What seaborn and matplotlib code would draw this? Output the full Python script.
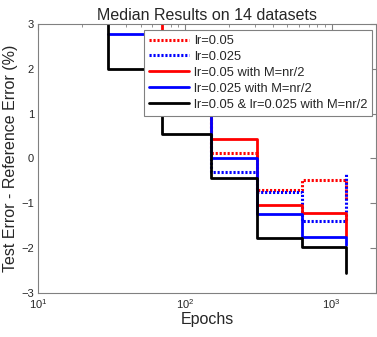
# Load libraries
import pandas as pd
import numpy as np
import matplotlib
matplotlib.use('Agg')
import matplotlib.pyplot as plt
import seaborn as sns

# Data (NaN = no value at that epoch)
epochs = [15, 30, 70, 150, 310, 625, 1250]
lr05 = [np.nan, np.nan, 1.6, 0.13, -0.70, -0.48, -0.90]
lr025 = [np.nan, np.nan, 1.4, -0.31, -0.74, -1.39, -0.32]
lr05_m = [np.nan, 3.6, 1.8, 0.43, -1.04, -1.22, -1.73]
lr025_m = [np.nan, 2.77, 1.6, 0.0, -1.24, -1.75, -1.93]
both_m = [4.5, 2.0, 0.55, -0.44, -1.78, -1.98, -2.55]

labels = ['lr=0.05', 'lr=0.025', 'lr=0.05 with M=nr/2',
          'lr=0.025 with M=nr/2', 'lr=0.05 & lr=0.025 with M=nr/2']
series = [lr05, lr025, lr05_m, lr025_m, both_m]
colors = ['red', 'blue', 'red', 'blue', 'black']
styles = [(0, (0.7, 0.6)), (0, (0.7, 0.6)), '-', '-', '-']
widths = [2.2, 2.2, 2.0, 2.0, 2.0]

sns.set_style('white')
plt.rcParams['font.family'] = ['Liberation Sans', 'DejaVu Sans']

fig = plt.figure(figsize=(3.77, 3.37), dpi=100)
ax = fig.add_axes([0.101, 0.131, 0.896, 0.798])

for vals, lab, c, ls, lw in zip(series, labels, colors, styles, widths):
    df = pd.DataFrame({'epochs': epochs, 'err': vals}).dropna()
    sns.lineplot(data=df, x='epochs', y='err', color=c, linestyle=ls,
                 linewidth=lw, drawstyle='steps-post', label=lab, ax=ax)

ax.set_xscale('log')
ax.set_xlim(10, 2000)
ax.set_ylim(-3, 3)
ax.set_yticks([-3, -2, -1, 0, 1, 2, 3])
ax.set_title('Median Results on 14 datasets', fontsize=11.5, pad=3)
ax.set_xlabel('Epochs', fontsize=11.5, labelpad=1)
ax.set_ylabel('Test Error - Reference Error (%)', fontsize=11.5, labelpad=2)

for s in ax.spines.values():
    s.set_color('#808080')
    s.set_linewidth(0.8)
ax.tick_params(which='both', direction='in', top=True, right=True,
               color='#808080', labelsize=8, pad=3)
ax.tick_params(which='major', length=4)
ax.tick_params(which='minor', length=2)

leg = ax.legend(loc='upper right', bbox_to_anchor=(0.99, 0.978),
                borderaxespad=0, fontsize=9.3, handlelength=3.1,
                labelspacing=0.3, borderpad=0.4, handletextpad=0.35,
                fancybox=False, framealpha=1)
leg.get_frame().set_edgecolor('#808080')
leg.get_frame().set_linewidth(0.8)

plt.savefig('out.png', dpi=100)
